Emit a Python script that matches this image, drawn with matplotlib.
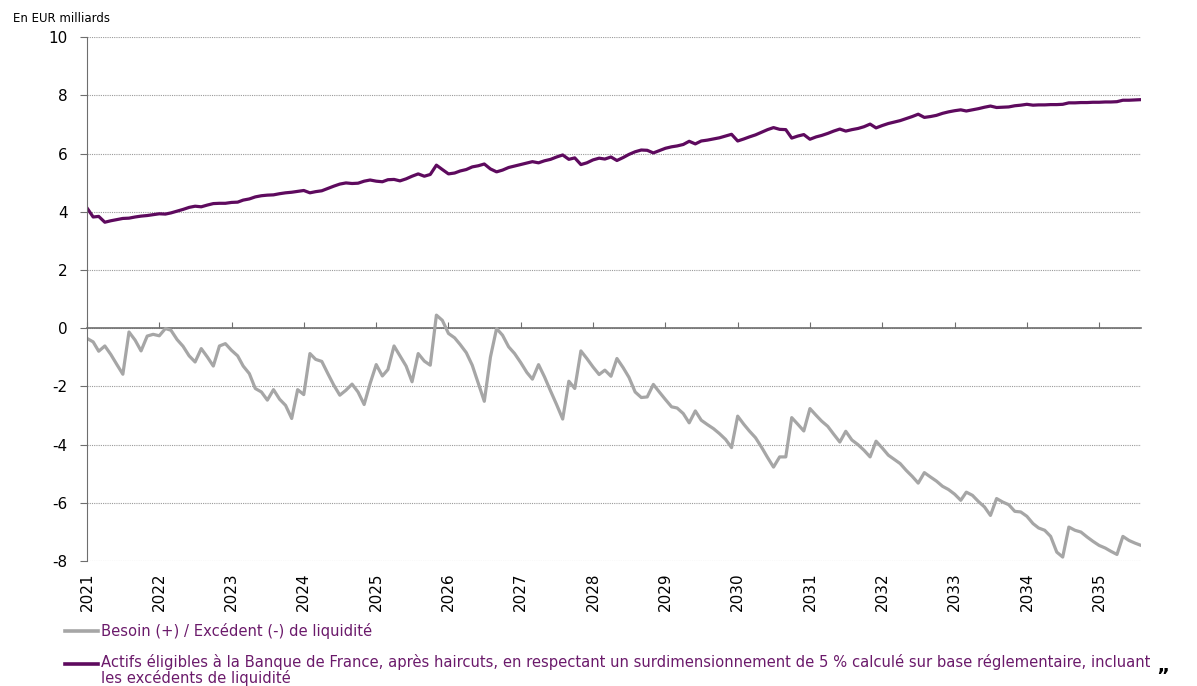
import pandas as pd
import matplotlib.pyplot as plt
from matplotlib.lines import Line2D

plt.rcParams['axes.unicode_minus'] = False

# monthly data, Jan 2021 -> Aug 2035 (EUR bn)
months = pd.date_range('2021-01-01', periods=176, freq='MS')

besoin = [
    -0.35, -0.47, -0.79, -0.61, -0.90, -1.25, -1.58, -0.13, -0.41, -0.78, -0.27, -0.21,
    -0.26, -0.01, -0.07, -0.39, -0.62, -0.95, -1.16, -0.70, -0.99, -1.30, -0.61, -0.53,
    -0.76, -0.95, -1.30, -1.56, -2.07, -2.19, -2.47, -2.11, -2.44, -2.65, -3.10, -2.11,
    -2.28, -0.87, -1.07, -1.14, -1.55, -1.96, -2.30, -2.13, -1.92, -2.19, -2.62, -1.90,
    -1.25, -1.64, -1.42, -0.61, -0.95, -1.30, -1.84, -0.87, -1.13, -1.27, 0.45, 0.27,
    -0.18, -0.33, -0.56, -0.84, -1.27, -1.90, -2.51, -0.99, -0.01, -0.24, -0.64, -0.87,
    -1.18, -1.52, -1.75, -1.25, -1.67, -2.16, -2.62, -3.12, -1.82, -2.07, -0.78, -1.04,
    -1.33, -1.59, -1.44, -1.65, -1.04, -1.35, -1.69, -2.19, -2.38, -2.36, -1.93, -2.19,
    -2.45, -2.70, -2.74, -2.93, -3.25, -2.84, -3.16, -3.31, -3.45, -3.62, -3.82, -4.10,
    -3.02, -3.30, -3.53, -3.76, -4.08, -4.44, -4.77, -4.42, -4.42, -3.07, -3.30, -3.53,
    -2.76, -2.99, -3.19, -3.37, -3.64, -3.91, -3.54, -3.84, -4.00, -4.19, -4.42, -3.88,
    -4.11, -4.36, -4.50, -4.65, -4.88, -5.09, -5.32, -4.96, -5.11, -5.25, -5.43, -5.54,
    -5.70, -5.91, -5.63, -5.74, -5.95, -6.14, -6.43, -5.85, -5.97, -6.06, -6.29, -6.31,
    -6.46, -6.71, -6.86, -6.94, -7.15, -7.69, -7.86, -6.83, -6.94, -7.00, -7.17, -7.32,
    -7.46, -7.55, -7.66, -7.77, -7.15, -7.29, -7.38, -7.46,
]

actifs = [
    4.13, 3.82, 3.84, 3.64, 3.69, 3.73, 3.77, 3.78, 3.82, 3.85, 3.87, 3.90,
    3.93, 3.92, 3.96, 4.02, 4.08, 4.15, 4.19, 4.17, 4.23, 4.28, 4.29, 4.29,
    4.32, 4.33, 4.40, 4.44, 4.51, 4.55, 4.57, 4.58, 4.62, 4.65, 4.67, 4.70,
    4.73, 4.65, 4.69, 4.72, 4.80, 4.88, 4.95, 4.99, 4.97, 4.98, 5.05, 5.09,
    5.05, 5.03, 5.10, 5.11, 5.06, 5.13, 5.22, 5.30, 5.22, 5.28, 5.60, 5.45,
    5.30, 5.33, 5.40, 5.45, 5.54, 5.58, 5.64, 5.47, 5.37, 5.43, 5.52, 5.57,
    5.62, 5.67, 5.72, 5.68, 5.75, 5.80, 5.88, 5.95, 5.80, 5.85, 5.62, 5.68,
    5.78, 5.84, 5.81, 5.88, 5.76, 5.86, 5.97, 6.06, 6.12, 6.11, 6.02, 6.10,
    6.18, 6.23, 6.26, 6.31, 6.42, 6.33, 6.43, 6.46, 6.50, 6.54, 6.60, 6.66,
    6.43, 6.50, 6.57, 6.64, 6.73, 6.82, 6.89, 6.83, 6.82, 6.53, 6.60, 6.65,
    6.49, 6.57, 6.62, 6.69, 6.77, 6.84, 6.77, 6.82, 6.86, 6.92, 7.01, 6.88,
    6.96, 7.03, 7.08, 7.13, 7.20, 7.27, 7.35, 7.24, 7.27, 7.31, 7.38, 7.43,
    7.47, 7.50, 7.46, 7.50, 7.54, 7.59, 7.63, 7.58, 7.59, 7.60, 7.64, 7.66,
    7.69, 7.66, 7.67, 7.67, 7.68, 7.68, 7.69, 7.74, 7.74, 7.75, 7.75, 7.76,
    7.76, 7.77, 7.77, 7.78, 7.83, 7.83, 7.84, 7.85,
]

label_besoin = "Besoin (+) / Excédent (-) de liquidité"
label_actifs = ("Actifs éligibles à la Banque de France, après haircuts, en respectant un "
                "surdimensionnement de 5 % calculé sur base réglementaire, incluant\n"
                "les excédents de liquidité")

grey = '#a6a6a6'
purple = '#5e0a5e'
text_purple = '#6b1a6b'
axis_col = '#6e6e6e'

fig = plt.figure(figsize=(11.97, 6.86), dpi=100)
ax = fig.add_axes([0.0727, 0.182, 0.8806, 0.764])

ax.plot(months, besoin, color=grey, linewidth=2.3, solid_joinstyle='round')
ax.plot(months, actifs, color=purple, linewidth=2.3, solid_joinstyle='round')

ax.set_ylim(-8, 10)
ax.set_yticks(range(-8, 11, 2))
ax.set_xlim(months[0], months[-1])
ax.yaxis.grid(True, linestyle=(0, (1, 1)), color='#9a9a9a', linewidth=0.8)
ax.set_axisbelow(True)

# x axis line crosses at 0, labels stay at the bottom
ax.spines['top'].set_visible(False)
ax.spines['right'].set_visible(False)
ax.spines['left'].set_color(axis_col)
ax.spines['bottom'].set_position(('data', 0))
ax.spines['bottom'].set_color(axis_col)
ax.spines['bottom'].set_linewidth(1.2)
ax.spines['bottom'].set_zorder(1)

years = pd.date_range('2021-01-01', '2035-01-01', freq='YS')
ax.set_xticks(years)
ax.tick_params(axis='x', direction='in', length=4, color=axis_col, labelbottom=False)
ax.tick_params(axis='y', direction='out', length=5, color=axis_col, labelsize=11, pad=9)

sec = ax.secondary_xaxis('bottom')
sec.set_xticks(years)
sec.set_xticklabels([str(y.year) for y in years], rotation=90, fontsize=11)
sec.tick_params(length=0, pad=8)
sec.spines['bottom'].set_visible(False)

fig.text(0.011, 0.963, "En EUR milliards", fontsize=8.5, ha='left', va='bottom')

# legend drawn below the plot
fig.add_artist(Line2D([0.054, 0.082], [0.080, 0.080], color=grey, linewidth=2.6))
fig.text(0.084, 0.080, label_besoin, fontsize=10.6, color=text_purple, va='center')
fig.add_artist(Line2D([0.054, 0.082], [0.032, 0.032], color=purple, linewidth=2.6))
fig.text(0.084, 0.046, label_actifs, fontsize=10.6, color=text_purple, va='top',
         linespacing=1.0)
fig.text(0.966, 0.0, "\u201d", fontsize=14, fontweight='bold', va='bottom')

fig.savefig('out.png', dpi=100)
